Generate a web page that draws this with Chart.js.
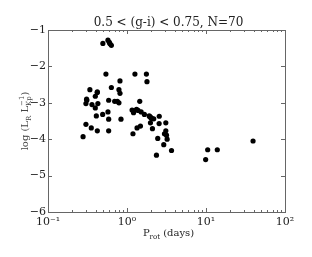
<!DOCTYPE html>
<html>
<head>
<meta charset="utf-8">
<script src="https://cdn.jsdelivr.net/npm/chart.js@4"></script>
<style>
  html, body { margin: 0; padding: 0; background: #fff; }
  #wrap { width: 312px; height: 257px; }
</style>
</head>
<body>
<div id="wrap"><canvas id="chart" width="312" height="257"></canvas></div>
<script>
// rotation period (days) and log luminosity ratio
const periods = [
  0.495, 0.574, 0.598, 0.634, 0.541, 0.815, 0.339, 0.421, 0.634, 0.791,
  0.815, 0.397, 0.308, 0.302, 0.360, 0.428, 0.397, 0.586, 0.698, 0.755,
  0.791, 0.574, 0.492, 0.409, 0.586, 0.839, 0.302, 0.353, 0.421, 0.586,
  0.278, 1.19, 1.26, 1.76, 1.79, 1.45, 1.16, 1.21, 1.32, 1.51,
  1.66, 1.91, 2.01, 2.18, 2.56, 1.98, 2.10, 2.55, 3.10, 1.48,
  1.34, 3.10, 2.98, 3.16, 2.45, 3.22, 2.92, 3.66, 2.36, 10.5,
  13.9, 9.9, 39.4, 1.22, 1.95, 2.05, 0.61, 0.42, 0.31, 1.38
];
const logRatio = [
  -1.37, -1.28, -1.34, -1.42, -2.21, -2.40, -2.64, -2.70, -2.58, -2.64,
  -2.74, -2.82, -2.90, -3.02, -3.05, -3.02, -3.14, -2.93, -2.96, -2.96,
  -3.00, -3.25, -3.32, -3.36, -3.45, -3.45, -3.59, -3.69, -3.77, -3.77,
  -3.93, -3.85, -2.21, -2.21, -2.42, -2.96, -3.20, -3.27, -3.18, -3.25,
  -3.32, -3.36, -3.41, -3.44, -3.37, -3.55, -3.71, -3.57, -3.55, -3.64,
  -3.69, -3.77, -3.85, -3.89, -3.98, -4.00, -4.15, -4.31, -4.44, -4.29,
  -4.29, -4.56, -4.05, -3.22, -3.38, -3.43, -1.38, -2.72, -2.93, -3.21
];
const xTicks = [0.1, 1, 10, 100];
const xTickLabels = ["10\u207B\u00B9", "10\u2070", "10\u00B9", "10\u00B2"];
const yTicks = [-1, -2, -3, -4, -5, -6];
const yTickLabels = ["\u22121", "\u22122", "\u22123", "\u22124", "\u22125", "\u22126"];
const title = "0.5 < (g-i) < 0.75, N=70";

const FONT = "'DejaVu Serif', serif";

// draw text made of runs; sub = subscript, sup = superscript stacked on the same spot
function drawRuns(ctx, runs, x, y, size) {
  let cx = x;
  runs.forEach(r => {
    ctx.font = size + "px " + FONT;
    ctx.fillText(r.t, cx, y);
    let w = ctx.measureText(r.t).width;
    let small = Math.round(size * 0.65);
    ctx.font = small + "px " + FONT;
    let ws = 0;
    if (r.sub) { ctx.fillText(r.sub, cx + w, y + size * 0.3); ws = ctx.measureText(r.sub).width; }
    if (r.sup) { ctx.fillText(r.sup, cx + w, y - size * 0.4); ws = Math.max(ws, ctx.measureText(r.sup).width); }
    cx += w + ws;
  });
  return cx - x;
}
function runsWidth(ctx, runs, size) {
  let w = 0;
  runs.forEach(r => {
    ctx.font = size + "px " + FONT;
    w += ctx.measureText(r.t).width;
    ctx.font = Math.round(size * 0.65) + "px " + FONT;
    let a = r.sub ? ctx.measureText(r.sub).width : 0;
    let b = r.sup ? ctx.measureText(r.sup).width : 0;
    w += Math.max(a, b);
  });
  return w;
}

const axesPlugin = {
  id: "mplAxes",
  afterDraw(chart) {
    const ctx = chart.ctx;
    const a = chart.chartArea;
    const xs = chart.scales.x, ys = chart.scales.y;
    ctx.save();
    ctx.strokeStyle = "#666";
    ctx.lineWidth = 1;
    ctx.strokeRect(Math.round(a.left) + 0.5, Math.round(a.top) + 0.5,
      Math.round(a.right - a.left), Math.round(a.bottom - a.top));

    // x ticks (major + minor, inward, bottom and top)
    ctx.beginPath();
    xTicks.forEach((v, i) => {
      const px = Math.round(xs.getPixelForValue(v)) + 0.5;
      ctx.moveTo(px, a.bottom); ctx.lineTo(px, a.bottom - 4);
      ctx.moveTo(px, a.top); ctx.lineTo(px, a.top + 4);
      if (i < xTicks.length - 1) {
        for (let m = 2; m < 10; m++) {
          const mx = Math.round(xs.getPixelForValue(v * m)) + 0.5;
          ctx.moveTo(mx, a.bottom); ctx.lineTo(mx, a.bottom - 2);
          ctx.moveTo(mx, a.top); ctx.lineTo(mx, a.top + 2);
        }
      }
    });
    yTicks.forEach(v => {
      const py = Math.round(ys.getPixelForValue(v)) + 0.5;
      ctx.moveTo(a.left, py); ctx.lineTo(a.left + 4, py);
      ctx.moveTo(a.right, py); ctx.lineTo(a.right - 4, py);
    });
    ctx.stroke();

    ctx.fillStyle = "#222";
    // y tick labels
    ctx.font = "11px " + FONT;
    ctx.textAlign = "right";
    ctx.textBaseline = "middle";
    yTicks.forEach((v, i) => {
      ctx.fillText(yTickLabels[i], a.left - 2, ys.getPixelForValue(v));
    });
    // x tick labels
    ctx.textAlign = "center";
    ctx.textBaseline = "alphabetic";
    xTicks.forEach((v, i) => {
      ctx.fillText(xTickLabels[i], xs.getPixelForValue(v), a.bottom + 13);
    });

    // title
    ctx.font = "12px " + FONT;
    ctx.fillText(title, (a.left + a.right) / 2 + 2, a.top - 4);

    // x axis label
    ctx.textAlign = "left";
    const xl = [{ t: "P", sub: "rot" }, { t: " (days)" }];
    const xw = runsWidth(ctx, xl, 10);
    drawRuns(ctx, xl, (a.left + a.right) / 2 + 2 - xw / 2, a.bottom + 24, 10);

    // y axis label
    const yl = [{ t: "log (L", sub: "R" }, { t: " L", sub: "Kp", sup: "\u22121" }, { t: ")" }];
    const yw = runsWidth(ctx, yl, 10);
    ctx.translate(28, (a.top + a.bottom) / 2 + 0);
    ctx.rotate(-Math.PI / 2);
    ctx.fillStyle = "#444";
    drawRuns(ctx, yl, -yw / 2, 0, 10);
    ctx.restore();
  }
};

new Chart(document.getElementById("chart"), {
  type: "scatter",
  data: {
    datasets: [{
      data: periods.map((p, i) => ({ x: p, y: logRatio[i] })),
      backgroundColor: "#000",
      borderColor: "#000",
      pointRadius: 2.6,
      borderWidth: 0
    }]
  },
  options: {
    responsive: false,
    animation: false,
    devicePixelRatio: 1,
    layout: { autoPadding: false, padding: { left: 48, right: 27, top: 30, bottom: 45 } },
    plugins: { legend: { display: false }, tooltip: { enabled: false } },
    scales: {
      x: { type: "logarithmic", min: 0.1, max: 100, display: false },
      y: { type: "linear", min: -6, max: -1, display: false }
    }
  },
  plugins: [axesPlugin]
});
</script>
</body>
</html>
